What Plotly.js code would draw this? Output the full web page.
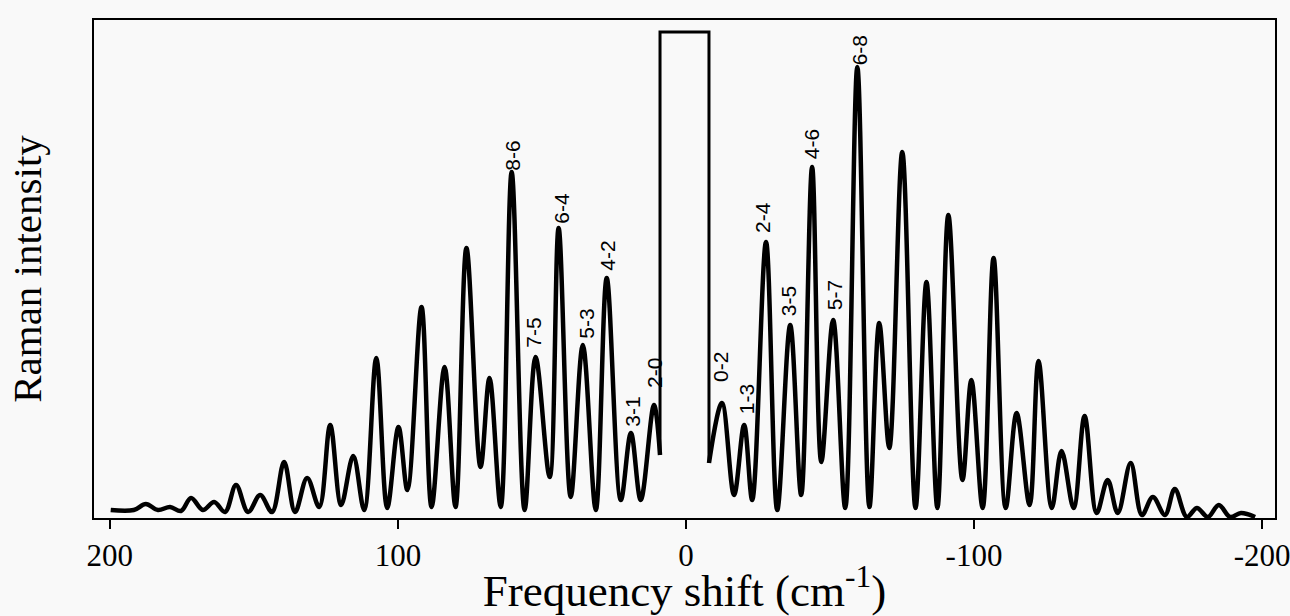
<!DOCTYPE html>
<html>
<head>
<meta charset="utf-8">
<script src="https://cdn.plot.ly/plotly-3.0.1.min.js"></script>
<style>html,body{margin:0;padding:0;background:#f9f9f9;}#chart{width:1290px;height:616px;}</style>
</head>
<body>
<div id="chart"></div>
<script>
// Anti-Stokes side (positive shift): peaks and valleys
var antiStokesShift = [199.7, 191.7, 187.5, 183.3, 179.1, 175.3, 171.8, 167.7, 163.8, 160.0, 156.2, 152.0, 147.8, 143.7, 139.5, 135.7, 131.5, 127.3, 123.5, 119.7, 115.5, 111.7, 107.5, 103.7, 99.8, 96.7, 91.8, 88.3, 83.8, 80.0, 76.2, 71.3, 68.2, 64.3, 60.5, 56.0, 52.2, 47.3, 44.2, 40.0, 35.8, 31.3, 27.5, 22.6, 19.1, 15.7, 11.1, 9.0];
var antiStokesIntensity = [8, 8, 14, 8, 11, 7, 20, 8, 16, 6, 33, 6, 23, 6, 56, 6, 40, 11, 93, 13, 62, 8, 160, 10, 91, 28, 211, 11, 151, 11, 270, 51, 140, 11, 346, 8, 161, 41, 290, 21, 173, 8, 240, 18, 85, 18, 113, 63];

// Rayleigh line (off scale, clipped)
var rayleighShift = [9.0, 9.0, -8.0, -8.0];
var rayleighIntensity = [63, 486, 486, 55];

// Stokes side (negative shift)
var stokesShift = [-8.0, -12.5, -16.7, -20.2, -23.0, -27.8, -31.7, -36.2, -40.0, -43.8, -47.0, -51.1, -55.3, -59.5, -63.7, -67.1, -70.6, -75.1, -79.7, -83.5, -87.3, -91.1, -96.0, -99.1, -103.0, -106.8, -111.0, -114.8, -119.3, -122.4, -127.0, -130.4, -134.6, -138.4, -142.6, -146.4, -149.9, -154.4, -158.3, -162.1, -166.3, -169.7, -173.9, -177.4, -181.2, -185.0, -188.9, -192.7, -197.6];
var stokesIntensity = [55, 115, 23, 93, 18, 276, 8, 193, 23, 351, 56, 198, 10, 451, 11, 195, 70, 366, 10, 236, 10, 303, 38, 138, 10, 260, 10, 105, 13, 157, 10, 67, 10, 102, 5, 38, 5, 55, 3, 21, 3, 29, 1, 10, 1, 13, 1, 5, 1];

// Line assignments
var lineLabels = ["8-6", "7-5", "6-4", "5-3", "4-2", "3-1", "2-0", "0-2", "1-3", "2-4", "3-5", "4-6", "5-7", "6-8"];
var lineLabelShift = [60.5, 53.2, 43.5, 34.8, 27.5, 18.8, 11.1, -11.8, -20.9, -26.4, -35.5, -43.5, -51.5, -60.2];
var lineLabelIntensity = [362, 185, 310, 194, 262, 106, 145, 151, 119, 301, 217, 374, 223, 468];

// Axis ticks
var tickValues = [200, 100, 0, -100, -200];
var tickLabels = ["200", "100", "0", "-100", "-200"];

var lineStyle = {color: '#000', width: 4.5};
var traces = [
  {x: antiStokesShift, y: antiStokesIntensity, mode: 'lines', line: Object.assign({shape: 'spline', smoothing: 1}, lineStyle), hoverinfo: 'x+y'},
  {x: rayleighShift, y: rayleighIntensity, mode: 'lines', line: {shape: 'linear', color: '#000', width: 3}, hoverinfo: 'x+y'},
  {x: stokesShift, y: stokesIntensity, mode: 'lines', line: Object.assign({shape: 'spline', smoothing: 1}, lineStyle), hoverinfo: 'x+y'}
];

var annotations = lineLabels.map(function (t, i) {
  return {x: lineLabelShift[i], y: lineLabelIntensity[i], xref: 'x', yref: 'y', text: t, showarrow: false,
    textangle: -90, font: {family: 'Liberation Sans, Arial, sans-serif', size: 21, color: '#000'}};
});

var serif = 'Liberation Serif, Times New Roman, serif';
var layout = {
  width: 1290, height: 616,
  margin: {l: 94, r: 15, t: 20, b: 98},
  paper_bgcolor: '#f9f9f9', plot_bgcolor: '#f9f9f9',
  showlegend: false,
  xaxis: {
    range: [205.5, -204.5], showgrid: false, zeroline: false,
    showline: true, mirror: true, linecolor: '#000', linewidth: 2,
    ticks: 'outside', ticklen: 9, tickwidth: 2, tickcolor: '#000',
    tickvals: tickValues, ticktext: tickLabels, ticklabeloverflow: 'allow',
    tickfont: {family: serif, size: 31, color: '#000'},
    title: {text: 'Frequency shift (cm<sup>-1</sup>)', font: {family: serif, size: 45, color: '#000'}, standoff: 0}
  },
  yaxis: {
    range: [0, 498], showgrid: false, zeroline: false,
    showline: true, mirror: true, linecolor: '#000', linewidth: 2,
    showticklabels: false, ticks: '',
    title: {text: 'Raman intensity', font: {family: serif, size: 41, color: '#000'}, standoff: 38}
  },
  annotations: annotations
};

Plotly.newPlot('chart', traces, layout, {displayModeBar: false, staticPlot: true});
</script>
</body>
</html>
